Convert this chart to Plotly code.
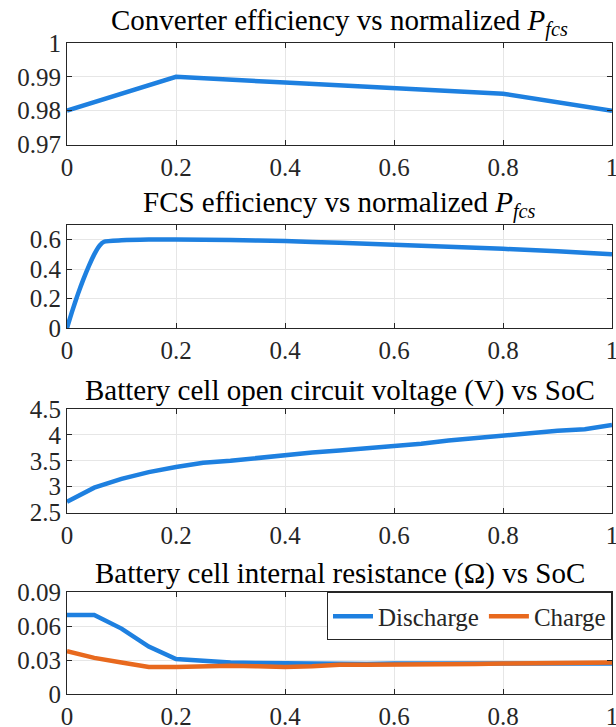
import plotly.graph_objects as go

# Converter efficiency vs normalized FCS power
conv_p = [0, 0.2, 0.4, 0.6, 0.8, 1.0]
conv_eff = [0.98, 0.99, 0.9883, 0.9867, 0.985, 0.98]

# FCS efficiency vs normalized FCS power
fcs_p = [0, 0.01, 0.02, 0.03, 0.04, 0.05, 0.06, 0.068, 0.1, 0.15, 0.2,
         0.3, 0.4, 0.5, 0.6, 0.7, 0.8, 0.9, 1.0]
fcs_eff = [0, 0.12, 0.23, 0.33, 0.42, 0.50, 0.56, 0.585, 0.595, 0.60, 0.60,
           0.597, 0.59, 0.578, 0.565, 0.552, 0.537, 0.52, 0.50]

# Battery cell open circuit voltage vs SoC
soc = [0, 0.05, 0.1, 0.15, 0.2, 0.25, 0.3, 0.35, 0.4, 0.45, 0.5,
       0.55, 0.6, 0.65, 0.7, 0.75, 0.8, 0.85, 0.9, 0.95, 1.0]
ocv = [2.71, 2.98, 3.15, 3.28, 3.38, 3.46, 3.50, 3.56, 3.61, 3.66, 3.70,
       3.74, 3.78, 3.83, 3.89, 3.94, 3.98, 4.03, 4.08, 4.11, 4.19]

# Battery cell internal resistance vs SoC
res_soc = [0, 0.05, 0.1, 0.15, 0.2, 0.25, 0.3, 0.35, 0.4, 0.45, 0.5,
           0.55, 0.6, 0.65, 0.7, 0.75, 0.8, 0.85, 0.9, 0.95, 1.0]
r_dis = [0.070, 0.070, 0.058, 0.042, 0.031, 0.0295, 0.028, 0.0275, 0.027, 0.0265, 0.026,
         0.0265, 0.027, 0.027, 0.027, 0.027, 0.027, 0.027, 0.027, 0.027, 0.027]
r_chg = [0.038, 0.032, 0.028, 0.024, 0.024, 0.0245, 0.025, 0.0245, 0.024, 0.0245, 0.026,
         0.026, 0.026, 0.026, 0.026, 0.0265, 0.027, 0.027, 0.027, 0.028, 0.028]

x_ticks = [0, 0.2, 0.4, 0.6, 0.8, 1]
x_tick_text = ["0", "0.2", "0.4", "0.6", "0.8", "1"]

BLUE = "#1e80e0"
ORANGE = "#e8691e"
FONT = "Liberation Serif"
TICK_SIZE = 25
TITLE_SIZE = 29
LW = 4.5

W, H = 616, 727
M_L, M_R, M_T, M_B = 67, 4, 42.7, 32.7
plot_h = H - M_T - M_B


def frac(px):
    return (H - M_B - px) / plot_h


# pixel top/bottom of each panel
panels = [(42.7, 144.3), (224.7, 328.0), (409.0, 512.7), (592.7, 694.3)]
domains = [[frac(b), frac(t)] for t, b in panels]

fig = go.Figure()
fig.add_trace(go.Scatter(x=conv_p, y=conv_eff, mode="lines",
                         line=dict(color=BLUE, width=LW), showlegend=False,
                         xaxis="x", yaxis="y"))
fig.add_trace(go.Scatter(x=fcs_p, y=fcs_eff, mode="lines", line_shape="spline",
                         line=dict(color=BLUE, width=LW, smoothing=0.6), showlegend=False,
                         xaxis="x2", yaxis="y2"))
fig.add_trace(go.Scatter(x=soc, y=ocv, mode="lines",
                         line=dict(color=BLUE, width=LW), showlegend=False,
                         xaxis="x3", yaxis="y3"))
fig.add_trace(go.Scatter(x=res_soc, y=r_dis, mode="lines", name="Discharge",
                         line=dict(color=BLUE, width=LW), xaxis="x4", yaxis="y4"))
fig.add_trace(go.Scatter(x=res_soc, y=r_chg, mode="lines", name="Charge",
                         line=dict(color=ORANGE, width=LW), xaxis="x4", yaxis="y4"))

y_specs = [
    dict(range=[0.97, 1.0], tickvals=[0.97, 0.98, 0.99, 1.0],
         ticktext=["0.97", "0.98", "0.99", "1"]),
    dict(range=[0, 0.7], tickvals=[0, 0.2, 0.4, 0.6],
         ticktext=["0", "0.2", "0.4", "0.6"]),
    dict(range=[2.5, 4.5], tickvals=[2.5, 3, 3.5, 4, 4.5],
         ticktext=["2.5", "3", "3.5", "4", "4.5"]),
    dict(range=[0, 0.09], tickvals=[0, 0.03, 0.06, 0.09],
         ticktext=["0", "0.03", "0.06", "0.09"]),
]


def axis_style():
    return dict(
        showline=True, linecolor="#262626", linewidth=1, mirror="allticks",
        ticks="inside", ticklen=5, tickcolor="#262626",
        showgrid=True, gridcolor="#e6e6e6", gridwidth=1, zeroline=False,
        tickfont=dict(family=FONT, size=TICK_SIZE, color="#262626"),
        ticklabeloverflow="allow",
    )


layout = dict(
    template="none",
    width=W, height=H,
    font=dict(family=FONT, size=TICK_SIZE, color="#262626"),
    margin=dict(l=M_L, r=M_R, t=M_T, b=M_B, autoexpand=False),
    paper_bgcolor="white", plot_bgcolor="white",
    legend=dict(x=1, y=domains[3][1], xanchor="right", yanchor="top",
                orientation="h", bgcolor="white", bordercolor="#262626",
                borderwidth=1, font=dict(family=FONT, size=TICK_SIZE, color="#262626"),
                itemwidth=40, tracegroupgap=0),
)

for i in range(4):
    sfx = "" if i == 0 else str(i + 1)
    layout["xaxis" + sfx] = dict(
        axis_style(), domain=[0, 1], range=[0, 1], tickvals=x_ticks,
        ticktext=x_tick_text, anchor="y" + sfx,
    )
    layout["yaxis" + sfx] = dict(
        axis_style(), domain=domains[i], anchor="x" + sfx, **y_specs[i],
    )

fig.update_layout(**layout)

titles = [
    "Converter efficiency vs normalized <i>P</i><sub><i>fcs</i></sub>",
    "FCS efficiency vs normalized <i>P</i><sub><i>fcs</i></sub>",
    "Battery cell open circuit voltage (V) vs SoC",
    "Battery cell internal resistance (\u03a9) vs SoC",
]
for i, t in enumerate(titles):
    fig.add_annotation(text=t, x=0.5, y=domains[i][1], xref="paper", yref="paper",
                       xanchor="center", yanchor="bottom", yshift=0, showarrow=False,
                       font=dict(family=FONT, size=TITLE_SIZE, color="black"))

fig.write_html("out.html")
